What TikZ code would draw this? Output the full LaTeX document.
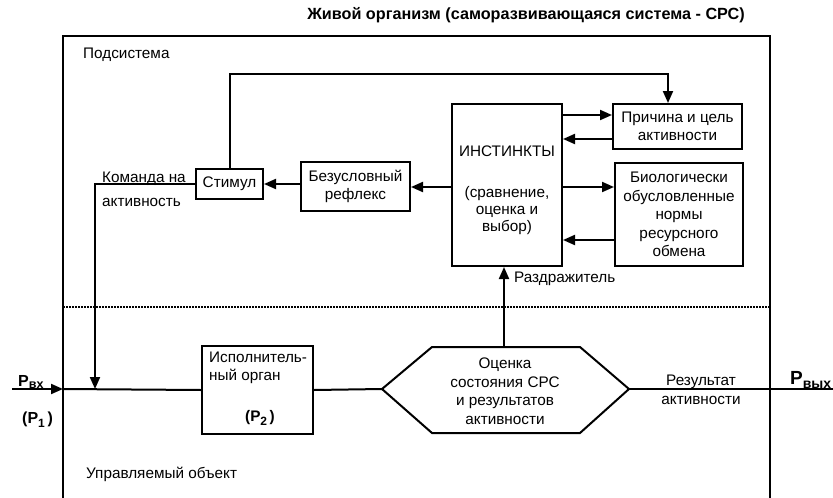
\documentclass[tikz,border=0pt]{standalone}
\usepackage{fontspec}
\setmainfont{Liberation Sans}
\usetikzlibrary{arrows.meta}
\newcommand{\diagfont}{\fontsize{15.3}{18.5}\selectfont}
\begin{document}
\begin{tikzpicture}[x=1pt,y=-1pt,
  box/.style={draw, line width=2pt, inner sep=0pt, align=center, font=\diagfont},
  txt/.style={inner sep=0pt, align=center, font=\diagfont},
  conn/.style={line width=2pt},
  arr/.style={line width=2pt, -{Triangle[length=12pt,width=10pt]}},
  frame/.style={line width=2pt},
  sep/.style={line width=1.5pt, dash pattern=on 1.5pt off 1.5pt}
]
\useasboundingbox (0,0) rectangle (833,498);

% outer frame
\draw[frame] (63,498) -- (63,36) -- (770,36) -- (770,498);
\draw[sep] (63,307) -- (770,307);

% texts
\node[txt, font=\fontsize{16.2}{18}\selectfont\bfseries] (title) at (526,15) {Живой организм (саморазвивающаяся система - СРС)};
\node[txt, anchor=west] (podsys) at (83,55) {Подсистема};
\node[txt, anchor=west] (uprobj) at (86,474) {Управляемый объект};

% boxes
\node[box, minimum width=67pt, minimum height=30pt] (stim) at (229.5,184) {Стимул};
\node[box, minimum width=109pt, minimum height=49pt] (bezusl) at (355.5,186.5) {Безусловный\\рефлекс};
\node[box, minimum width=110pt, minimum height=162pt] (inst) at (507,185) {};
\node[txt] (instT) at (507,190) {ИНСТИНКТЫ\\[22pt](сравнение,\\[-1.5pt]оценка и\\[-1.5pt]выбор)};
\node[box, minimum width=129pt, minimum height=45pt] (prich) at (677.5,126.5) {Причина и цель\\активности};
\node[box, minimum width=128pt, minimum height=103pt] (biol) at (679,214.5) {Биологически\\обусловленные\\нормы\\ресурсного\\обмена};
\node[box, minimum width=111pt, minimum height=88pt] (isp) at (257.5,390) {};
\node[txt, anchor=west, align=left] (ispT) at (209,368) {Исполнитель-\\ный орган};
\node[txt, font=\diagfont\bfseries] (p2) at (260,418) {(P\raisebox{-4pt}{\fontsize{12}{12}\selectfont 2}\,)};

% hexagon
\coordinate (hexL) at (382,389);
\coordinate (hexTL) at (432,347);
\coordinate (hexT) at (504,347);
\coordinate (hexTR) at (580,347);
\coordinate (hexR) at (629,389);
\coordinate (hexBR) at (580,433);
\coordinate (hexBL) at (432,433);
\draw[frame, line join=miter] (hexL) -- (hexTL) -- (hexTR) -- (hexR) -- (hexBR) -- (hexBL) -- cycle;
\node[txt] (hexText) at (505,391) {Оценка\\состояния СРС\\и результатов\\активности};

% labels
\node[txt, anchor=base west] (cmd1) at (102,182) {Команда на};
\node[txt, anchor=base west] (cmd2) at (102,206) {активность};
\node[txt, anchor=base west] (razdr) at (514,282) {Раздражитель};
\node[txt] (rez) at (701,390) {Результат\\активности};
\node[txt, anchor=base west, font=\fontsize{16}{18}\selectfont\bfseries] (pin) at (18,386) {P\raisebox{-2pt}{\fontsize{12.5}{12}\selectfont вх}};
\node[txt, anchor=base west, font=\fontsize{16}{18}\selectfont\bfseries] (p1) at (22,423) {(P\raisebox{-4pt}{\fontsize{12}{12}\selectfont 1}\,)};
\node[txt, anchor=base west, font=\fontsize{19}{20}\selectfont\bfseries] (pout) at (790,384) {P\raisebox{-4pt}{\fontsize{14}{14}\selectfont вых}};

% main line
\coordinate (inS) at (12,389);
\coordinate (inE) at (63,389);
\coordinate (cmdC) at (95,389);
\coordinate (outE) at (833,389);
\draw[arr] (inS) -- (inE);
\draw[conn] (inE) -- (isp.west);
\draw[conn] (isp.east) -- (hexL);
\draw[conn] (hexR) -- (outE);

% command line
\draw[arr] (stim.west) -| (cmdC);

% feedback top line
\coordinate (fbTR) at (668,74);
\draw[arr] (stim.north) |- (fbTR) -- (fbTR |- prich.north);

% instinct links
\draw[arr] (inst.east |- 0,115) -- (prich.west |- 0,115);
\draw[arr] (prich.west |- 0,139) -- (inst.east |- 0,139);
\draw[arr] (inst.east |- 0,187) -- (biol.west |- 0,187);
\draw[arr] (biol.west |- 0,240) -- (inst.east |- 0,240);
\draw[arr] (inst.west |- 0,187) -- (bezusl.east |- 0,187);
\draw[arr] (bezusl.west |- 0,184) -- (stim.east |- 0,184);

% stimulus
\draw[arr] (hexT) -- (hexT |- inst.south);
\end{tikzpicture}
\end{document}
